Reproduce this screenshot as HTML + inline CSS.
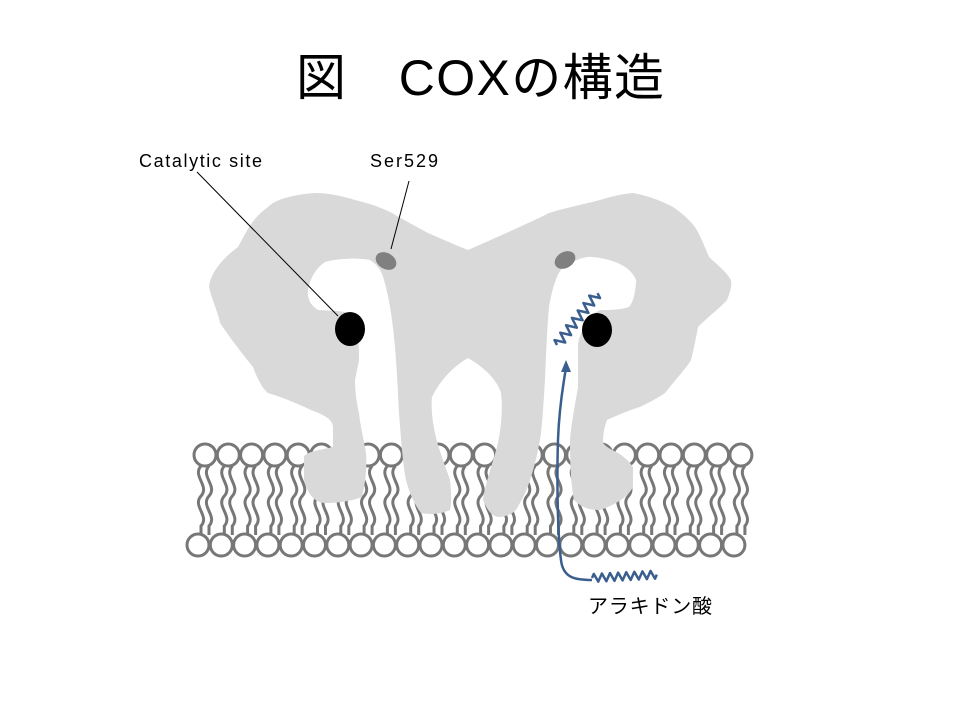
<!DOCTYPE html>
<html><head><meta charset="utf-8"><style>
body{margin:0;background:#fff;width:960px;height:720px;overflow:hidden}
svg{display:block}
</style></head><body>
<svg width="960" height="720" viewBox="0 0 960 720" xmlns="http://www.w3.org/2000/svg">
<defs>
<g id="lp" stroke="#777" stroke-width="3" fill="#fff">
<path fill="none" d="M-4,466 C-13,476 5,486 -4,496 C-13,506 5,516 -4,526 L-4,535"/>
<path fill="none" d="M4,466 C-5,476 13,486 4,496 C-5,506 13,516 4,526 L4,535"/>
<circle cx="0" cy="455" r="11"/>
</g>
<circle id="bh" cx="0" cy="545" r="11" stroke="#777" stroke-width="3" fill="#fff"/>
</defs>
<text x="480" y="95" text-anchor="middle" font-family="Liberation Sans, Noto Sans CJK JP, sans-serif" font-size="50" textLength="368">図　COXの構造</text>
<g>
<use href="#lp" x="205"/><use href="#lp" x="228.3"/><use href="#lp" x="251.6"/><use href="#lp" x="274.9"/><use href="#lp" x="298.2"/><use href="#lp" x="321.5"/><use href="#lp" x="344.8"/><use href="#lp" x="368.1"/><use href="#lp" x="391.4"/><use href="#lp" x="414.7"/><use href="#lp" x="438"/><use href="#lp" x="461.3"/><use href="#lp" x="484.6"/><use href="#lp" x="507.9"/><use href="#lp" x="531.2"/><use href="#lp" x="554.5"/><use href="#lp" x="577.8"/><use href="#lp" x="601.1"/><use href="#lp" x="624.4"/><use href="#lp" x="647.7"/><use href="#lp" x="671"/><use href="#lp" x="694.3"/><use href="#lp" x="717.6"/><use href="#lp" x="740.9"/>
<use href="#bh" x="198"/><use href="#bh" x="221.3"/><use href="#bh" x="244.6"/><use href="#bh" x="267.9"/><use href="#bh" x="291.2"/><use href="#bh" x="314.5"/><use href="#bh" x="337.8"/><use href="#bh" x="361.1"/><use href="#bh" x="384.4"/><use href="#bh" x="407.7"/><use href="#bh" x="431"/><use href="#bh" x="454.3"/><use href="#bh" x="477.6"/><use href="#bh" x="500.9"/><use href="#bh" x="524.2"/><use href="#bh" x="547.5"/><use href="#bh" x="570.8"/><use href="#bh" x="594.1"/><use href="#bh" x="617.4"/><use href="#bh" x="640.7"/><use href="#bh" x="664"/><use href="#bh" x="687.3"/><use href="#bh" x="710.6"/><use href="#bh" x="733.9"/>
</g>
<path fill="#d9d9d9" d="M315,193 C290,195 275,200 268,207 C250,220 245,235 238,247 C220,260 210,275 209,287 C212,300 218,312 220,323 C235,345 245,357 253,367 C258,380 262,388 268,393 C290,400 300,405 311,410 C325,415 333,420 333,427 L333,447 C320,450 305,452 304,457 L304,480 C308,495 315,503 326,503 C340,503 355,500 362,497 C366,480 367,465 366,453 C364,440 360,425 359,413 C356,400 355,390 355,380 L359,360 C359,340 358,325 352,315 C345,310 330,311 318,310 C310,305 307,298 308,290 C310,278 316,268 325,262 C340,258 360,258 370,260 C378,265 382,272 384,280 C390,300 393,325 395,347 C397,370 398,395 399,413 C401,440 403,465 406,480 C410,495 415,505 421,513 C430,515 442,514 450,510 C452,500 451,490 450,480 C445,465 438,448 435,433 C432,420 431,405 432,397 C440,380 455,365 468,358 C485,368 497,380 501,393 C503,410 501,430 497,447 C492,465 485,485 483,500 C487,510 492,516 498,517 C505,517 512,514 516,510 C522,500 527,490 530,480 C535,465 539,448 541,433 C543,415 544,395 545,380 C546,355 547,330 549,307 C552,290 556,275 563,267 C575,260 585,256 592,257 C605,258 620,262 629,270 C634,275 637,280 636,283 C635,295 633,302 629,307 C620,310 610,310 600,310 C590,315 585,320 585,325 C580,335 578,340 578,347 L578,387 C575,405 571,425 570,440 C570,465 571,485 574,500 C582,508 590,510 600,510 C615,505 628,497 633,487 L633,467 C628,460 623,456 618,453 C612,450 606,447 603,443 C603,435 604,428 607,420 C620,414 630,410 640,407 C650,402 658,398 665,393 C675,380 685,370 691,360 C694,348 696,338 698,327 C710,315 720,308 727,300 C730,293 732,286 731,280 C725,270 715,263 709,257 C704,245 700,235 695,227 C688,218 680,212 673,207 C660,200 645,195 633,193 C620,194 610,197 600,200 C585,204 565,208 549,213 C525,225 495,238 468,250 C455,245 440,238 428,233 C415,226 402,219 392,213 C380,207 368,203 355,200 C342,196 328,193 315,193 Z"/>
<ellipse cx="350" cy="329" rx="15" ry="17" fill="#000"/>
<ellipse cx="597" cy="330" rx="15" ry="17" fill="#000"/>
<ellipse cx="386" cy="261" rx="11" ry="8" transform="rotate(30 386 261)" fill="#808080"/>
<ellipse cx="565" cy="260" rx="11" ry="8" transform="rotate(-30 565 260)" fill="#808080"/>
<line x1="197" y1="172" x2="338" y2="316" stroke="#000" stroke-width="1"/>
<line x1="409" y1="181" x2="391" y2="249" stroke="#000" stroke-width="1"/>
<g fill="none" stroke="#3a5f8f" stroke-width="2.5" stroke-linejoin="round">
<path d="M592,580 C575,580 563,578 561,560 C557,530 557,470 558,440 C559,410 563,385 566,368"/>
<path transform="translate(557,345) rotate(-52)" d="M0,0 l2.35,-5 l4.7,10 l4.7,-10 l4.7,10 l4.7,-10 l4.7,10 l4.7,-10 l4.7,10 l4.7,-10 l4.7,10 l4.7,-10 l4.7,10 l4.7,-10 l4.7,10 l2.35,-5"/>
<path transform="translate(592,578) rotate(-3)" d="M0,0 l2,-4 l4.06,8 l4.06,-8 l4.06,8 l4.06,-8 l4.06,8 l4.06,-8 l4.06,8 l4.06,-8 l4.06,8 l4.06,-8 l4.06,8 l4.06,-8 l4.06,8 l4.06,-8 l4.06,8 l2,-4"/>
</g>
<polygon points="566,360 561,372 571,372" fill="#3a5f8f"/>
<g font-family="Liberation Sans, Noto Sans CJK JP, sans-serif" font-size="18" fill="#000">
<text x="139" y="167" textLength="123">Catalytic site</text>
<text x="370" y="167" textLength="68">Ser529</text>
<text x="588" y="613" font-size="20" textLength="124">アラキドン酸</text>
</g>
</svg>
</body></html>
